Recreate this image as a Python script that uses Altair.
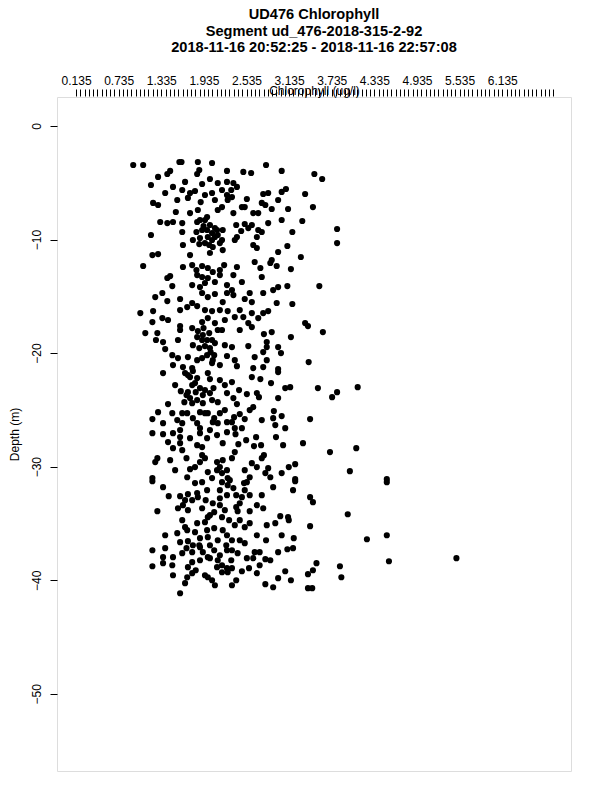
import altair as alt
import pandas as pd

# (chlorophyll ug/l, depth m)
upper_pts = [
    (0.94, -3.44), (1.08, -3.44), (1.59, -3.17), (1.62, -3.17), (1.85, -3.17), (2.05, -3.26),
    (2.26, -3.96), (1.46, -3.96), (1.42, -4.23), (1.29, -4.49), (1.87, -3.88), (1.84, -4.23),
    (2.02, -4.67), (2.13, -5.02), (1.91, -5.11), (2.26, -4.93), (1.19, -5.20), (1.50, -5.37),
    (1.39, -5.90), (1.63, -5.64), (1.74, -5.90), (1.81, -5.73), (2.05, -5.90), (2.19, -5.64),
    (2.26, -6.08), (2.27, -6.52), (1.22, -6.78), (1.29, -6.96), (1.56, -6.52), (1.89, -6.70),
    (1.74, -7.67), (1.85, -7.40), (1.98, -8.02), (2.13, -7.40), (2.19, -7.14), (1.32, -8.46),
    (1.42, -8.55), (1.50, -8.46), (1.63, -8.55), (1.84, -8.46), (1.95, -8.28), (2.02, -8.72),
    (2.12, -9.16), (2.20, -9.16), (1.19, -9.60), (1.63, -9.34), (1.91, -9.16), (1.99, -9.78),
    (2.09, -9.78), (2.16, -10.31), (1.78, -10.04), (1.64, -10.48), (1.88, -9.87), (2.05, -9.43),
    (1.95, -10.31), (2.06, -10.66),
    (2.81, -3.44), (2.49, -4.05), (2.60, -4.14), (3.03, -3.96), (3.49, -4.23), (3.60, -4.67),
    (2.35, -5.02), (2.40, -5.37), (2.77, -5.99), (2.84, -5.90), (3.03, -5.81), (3.09, -5.55),
    (3.36, -5.99), (2.54, -6.43), (2.75, -6.78), (2.98, -6.52), (2.89, -7.31), (3.12, -7.31),
    (3.47, -7.14), (2.47, -7.14), (2.51, -7.14), (2.35, -7.67), (2.63, -7.67), (2.70, -7.67),
    (3.32, -8.37), (2.84, -8.55), (2.51, -8.63), (2.61, -8.72), (2.70, -9.16), (2.75, -9.34),
    (3.81, -9.07), (2.40, -9.78), (2.37, -10.04), (2.68, -9.78), (2.63, -10.48), (2.68, -10.75),
    (2.98, -11.10), (3.11, -10.57), (3.81, -10.31), (3.30, -11.54), (2.89, -11.81),
    (2.32, -5.64), (2.33, -6.26), (2.39, -8.72), (2.46, -9.25),
    (2.20, -10.93), (1.21, -11.37), (1.29, -11.28), (1.74, -11.37), (2.02, -11.19),
    (1.88, -8.28), (1.93, -8.81), (1.98, -9.16), (2.05, -10.04), (2.09, -8.99), (2.13, -9.60),
    (1.87, -10.40), (2.19, -10.04), (1.83, -9.34), (2.01, -10.48), (1.67, -4.93), (1.71, -6.34),
    (1.95, -6.08), (2.09, -6.52), (1.54, -7.58), (2.56, -8.99), (2.80, -6.96), (3.18, -9.34),
    (3.03, -8.28),
]

middle_pts = [
    (1.08, -12.33), (1.64, -12.42), (1.77, -12.25), (1.91, -12.33), (1.99, -12.51), (2.06, -12.86),
    (2.16, -12.69), (1.42, -13.39), (1.46, -13.22), (1.84, -13.13), (1.91, -13.30), (1.99, -13.39),
    (2.16, -13.13), (1.49, -14.10), (1.77, -14.01), (1.88, -14.19), (2.26, -14.01), (1.35, -14.71),
    (1.25, -15.07), (1.42, -15.42), (1.60, -15.24), (1.77, -15.59), (1.84, -15.86), (1.91, -14.71),
    (1.99, -15.07), (2.09, -14.80), (2.20, -15.51), (2.26, -14.71), (1.04, -16.48), (1.22, -16.30),
    (1.60, -16.21), (1.70, -15.95), (1.95, -16.21), (2.05, -16.30), (2.16, -16.21), (2.27, -16.30),
    (1.21, -17.27), (1.35, -16.92), (1.43, -17.09), (1.60, -17.62), (1.91, -17.27), (1.99, -16.92),
    (2.09, -17.36), (2.23, -17.09), (1.11, -18.24), (1.28, -18.24), (1.60, -17.97), (1.77, -17.80),
    (1.85, -18.06), (2.13, -17.97), (1.26, -18.85), (1.36, -19.03), (1.39, -19.65), (1.78, -19.30),
    (1.91, -18.85), (1.98, -18.85), (2.02, -19.56), (2.09, -19.12), (1.49, -20.18), (1.57, -20.44),
    (1.71, -20.35), (1.84, -20.62), (1.91, -20.44), (1.98, -20.18), (2.06, -20.62), (2.26, -20.26),
    (1.50, -21.06), (1.64, -21.23), (1.77, -21.32), (2.05, -20.88), (2.16, -21.06),
    (1.92, -18.41), (1.95, -19.38), (2.03, -19.91), (2.01, -18.24),
    (2.65, -11.98), (2.87, -12.07), (2.96, -12.33), (3.16, -12.60), (2.75, -13.30), (2.47, -13.74),
    (2.35, -13.13), (2.91, -14.45), (2.98, -14.19), (3.11, -14.10), (3.56, -14.10), (2.77, -14.71),
    (2.58, -14.71), (2.51, -15.24), (2.61, -15.51), (2.96, -15.59), (3.18, -15.68), (2.44, -16.21),
    (2.61, -16.48), (2.77, -16.48), (2.84, -16.30), (2.70, -16.92), (2.37, -16.83), (2.56, -17.36),
    (2.61, -17.71), (3.36, -17.36), (3.40, -17.62), (3.61, -18.15), (2.44, -17.97), (2.78, -18.33),
    (2.89, -18.15), (3.16, -18.59), (2.82, -19.03), (2.56, -19.38), (2.82, -19.47), (2.77, -19.91),
    (2.98, -19.47), (3.02, -20.00), (2.65, -20.35), (2.82, -20.62), (3.41, -20.79), (2.37, -20.62),
    (2.40, -21.15), (2.63, -21.32), (2.77, -21.23), (2.98, -21.41),
    (2.40, -12.42), (2.73, -12.51), (2.35, -14.89), (2.49, -16.83), (2.33, -19.47),
    (1.84, -18.59), (1.93, -17.80), (2.05, -18.85), (1.87, -19.56), (2.08, -20.18), (1.57, -18.85),
    (2.23, -19.30), (2.19, -17.97), (1.83, -12.69), (1.95, -13.83), (2.09, -13.74), (2.22, -12.25),
    (2.33, -14.45),
]

lower_pts = [
    (1.36, -21.76), (1.67, -21.76), (1.74, -22.11), (1.84, -22.20), (1.99, -21.76), (2.02, -22.29),
    (2.16, -22.38), (2.23, -22.82), (1.53, -22.82), (1.61, -23.35), (1.71, -23.44), (1.74, -23.96),
    (1.84, -24.14), (1.77, -24.41), (1.92, -24.41), (2.02, -23.52), (2.05, -24.14), (2.13, -24.32),
    (2.26, -23.52), (1.43, -24.49), (1.29, -25.20), (1.49, -25.29), (1.63, -25.29), (1.70, -25.29),
    (1.88, -25.20), (1.95, -25.29), (1.99, -25.29), (2.16, -25.29), (2.23, -25.02), (1.21, -25.81),
    (1.36, -26.17), (1.56, -25.90), (1.63, -26.17), (1.84, -26.17), (1.88, -26.61), (2.06, -26.08),
    (2.13, -26.17), (2.26, -26.08), (1.21, -27.05), (1.36, -27.14), (1.50, -27.05), (1.60, -27.40),
    (1.74, -27.49), (1.88, -27.05), (1.98, -27.49), (2.12, -27.22), (2.26, -26.96), (1.43, -27.84),
    (1.50, -28.37), (1.60, -27.93), (1.63, -28.55), (1.84, -28.11), (1.91, -28.28), (2.20, -27.93),
    (1.28, -29.25), (1.25, -29.60), (1.91, -28.99), (1.95, -29.25), (2.12, -29.60), (2.20, -29.43),
    (1.53, -30.31), (1.74, -30.22), (1.81, -30.04), (1.99, -30.48), (2.12, -30.31), (2.16, -30.04),
    (2.19, -30.57), (2.26, -30.31), (1.21, -31.01), (1.70, -30.93), (2.27, -31.01),
    (1.78, -21.58), (1.81, -22.64), (1.88, -23.08), (1.92, -23.70), (1.69, -23.70),
    (2.98, -21.67), (2.61, -22.11), (2.73, -22.29), (2.88, -22.64), (3.08, -23.08), (3.15, -23.00),
    (3.54, -23.08), (3.81, -23.44), (3.74, -23.88), (4.10, -23.00), (2.43, -23.26), (2.54, -23.61),
    (2.68, -23.52), (2.71, -23.88), (2.98, -23.96), (2.40, -24.49), (2.63, -24.76), (2.58, -25.02),
    (2.92, -25.11), (2.91, -25.73), (3.03, -25.55), (3.43, -25.81), (2.44, -25.37), (2.51, -25.81),
    (2.94, -26.34), (2.37, -26.61), (2.47, -26.61), (2.95, -27.40), (3.33, -27.93), (3.71, -28.72),
    (4.08, -28.37), (2.67, -27.40), (2.64, -28.19), (2.74, -28.11), (2.42, -28.02), (2.37, -28.72),
    (2.75, -29.25), (2.61, -29.69), (2.68, -30.04), (2.84, -30.13), (2.51, -30.31), (2.80, -30.57),
    (3.03, -30.57), (3.13, -30.04), (3.22, -29.78), (3.99, -30.40), (2.58, -30.93), (2.87, -30.93),
    (3.22, -31.10), (4.51, -31.10),
    (2.33, -22.55), (2.35, -23.96), (2.36, -25.64), (2.38, -27.14), (2.33, -26.08), (2.33, -29.25),
    (1.71, -21.94), (1.77, -22.82), (1.82, -23.44), (1.66, -24.32), (1.95, -23.26), (2.07, -23.08),
    (1.60, -26.78), (2.02, -26.78), (1.78, -25.73), (2.08, -25.73), (1.88, -29.60), (2.05, -31.01),
    (1.69, -29.25), (1.46, -29.43), (2.53, -27.67), (2.75, -25.90), (3.05, -28.11), (3.08, -26.61),
    (2.78, -28.99),
]

bottom_pts = [
    (1.21, -31.28), (1.36, -31.81), (1.44, -32.60), (1.60, -32.60), (1.71, -32.42), (1.84, -32.33),
    (1.98, -32.07), (1.81, -31.45), (1.91, -31.37), (2.16, -32.07), (2.19, -31.37), (2.27, -31.63),
    (2.16, -32.78), (2.26, -32.51), (1.64, -33.39), (1.71, -33.83), (1.91, -33.66), (2.06, -33.22),
    (2.16, -33.39), (2.23, -33.83), (1.28, -33.92), (1.63, -34.71), (1.67, -35.33), (1.84, -34.98),
    (1.99, -34.45), (2.02, -34.27), (2.19, -34.45), (1.39, -36.04), (1.56, -35.86), (1.70, -35.59),
    (1.81, -35.77), (1.98, -35.59), (1.99, -36.21), (2.20, -35.59), (2.26, -36.04), (1.60, -36.65),
    (1.71, -36.56), (1.78, -36.92), (1.88, -37.09), (1.21, -37.36), (1.63, -37.62), (1.77, -37.53),
    (1.92, -37.53), (2.16, -37.80), (2.26, -37.36), (1.36, -37.97), (1.50, -37.97), (1.77, -38.41),
    (1.88, -38.24), (2.02, -38.06), (2.13, -38.24), (2.19, -38.68), (1.21, -38.77), (1.36, -38.50),
    (1.49, -38.68), (1.71, -38.85), (2.12, -38.85), (2.26, -38.94), (2.27, -39.30), (1.50, -39.56),
    (1.70, -39.74), (1.77, -39.38), (1.95, -39.56), (1.99, -39.74), (2.19, -39.30), (1.67, -40.26),
    (2.09, -40.44), (1.60, -41.15),
    (1.67, -32.95), (1.57, -33.66), (1.88, -36.30), (2.08, -37.36),
    (4.51, -31.37), (2.91, -31.81), (3.19, -32.07), (3.22, -31.28), (3.43, -32.69), (3.47, -33.13),
    (3.96, -34.19), (3.43, -35.24), (4.23, -36.39), (4.51, -36.04), (4.54, -38.33), (5.49, -38.06),
    (3.85, -38.77), (3.87, -39.74), (3.52, -38.50), (3.47, -39.12), (3.40, -39.47), (3.46, -40.70),
    (3.40, -40.70), (3.16, -40.00), (3.08, -39.21), (2.98, -39.82), (2.80, -40.35), (2.91, -40.62),
    (3.19, -37.18), (3.11, -37.27), (2.98, -37.53), (3.03, -36.04), (3.20, -36.30), (2.68, -36.04),
    (2.82, -35.15), (2.94, -34.98), (3.01, -34.36), (3.12, -34.45), (3.13, -34.71), (2.68, -33.39),
    (2.77, -33.66), (2.58, -34.98), (2.51, -35.33), (2.37, -35.15), (2.44, -34.71), (2.65, -37.53),
    (2.72, -37.53), (2.44, -36.48), (2.51, -36.74), (2.33, -36.48), (2.33, -37.36), (2.41, -37.62),
    (2.54, -38.06), (2.63, -38.06), (2.80, -38.15), (2.72, -38.68), (2.68, -39.38), (2.33, -38.94),
    (2.47, -39.21), (2.33, -40.44), (2.51, -32.07), (2.47, -32.69), (2.35, -31.89), (2.54, -31.37),
    (2.39, -32.51), (2.44, -33.22), (2.41, -33.92),
    (1.77, -32.95), (1.85, -32.69), (1.96, -32.95), (2.08, -34.01), (2.29, -34.71), (1.95, -34.89),
    (2.08, -35.42), (1.87, -36.92), (2.02, -36.92), (2.13, -36.48), (2.25, -36.92), (1.69, -37.18),
    (1.99, -37.97), (2.32, -38.24), (1.82, -39.12), (2.05, -40.00), (1.39, -37.18), (2.30, -31.19),
    (2.50, -31.45), (2.58, -32.51), (2.39, -33.57), (2.58, -33.92), (2.75, -32.51), (2.81, -36.48),
    (2.87, -38.24), (2.57, -38.94), (2.39, -40.00),
]

x_label_values = ["0.135", "0.735", "1.335", "1.935", "2.535", "3.135",
                  "3.735", "4.335", "4.935", "5.535", "6.135"]
x_tick_values = [round(0.135 + 0.06 * k, 3) for k in range(113)]
y_tick_values = [0, -10, -20, -30, -40, -50]

title_lines = ["UD476 Chlorophyll",
               "Segment ud_476-2018-315-2-92",
               "2018-11-16 20:52:25 - 2018-11-16 22:57:08"]

all_pts = upper_pts + middle_pts + lower_pts + bottom_pts
df = pd.DataFrame(all_pts, columns=["chl", "depth"])

FONT = "Liberation Sans"
label_list = ",".join("'" + s + "'" for s in x_label_values)
label_expr = (f"indexof([{label_list}], format(datum.value, '.3f')) >= 0 "
              f"? format(datum.value, '.3f') : ''")

x_axis = alt.Axis(
    orient="top", values=x_tick_values, labelExpr=label_expr, labelOverlap=False,
    labelFlush=False, tickSize=7, tickColor="black", tickWidth=1, domain=False, grid=False,
    offset=1, labelFont=FONT, labelFontSize=12, labelColor="black", labelPadding=2,
    title="Chlorophyll (ug/l)", titleFont=FONT, titleFontSize=12, titleFontWeight="normal",
    titleColor="black", titleX=257, titleY=-6, titleBaseline="middle", titleAlign="center",
)

y_axis = alt.Axis(
    values=y_tick_values, tickSize=7, tickColor="black", domain=False, grid=False,
    labelAngle=270, labelAlign="center", labelBaseline="bottom", labelPadding=7,
    labelFont=FONT, labelFontSize=12, labelColor="black",
    title="Depth (m)", titleFont=FONT, titleFontSize=12, titleFontWeight="normal",
    titleColor="black", titleAngle=270, titleX=-43, titleY=337, titleAlign="center",
    titleBaseline="middle",
)

chart = alt.Chart(df).mark_circle(size=38, color="black", opacity=1).encode(
    x=alt.X("chl:Q", scale=alt.Scale(domain=[-0.133, 7.103], nice=False, zero=False), axis=x_axis),
    y=alt.Y("depth:Q", scale=alt.Scale(domain=[-56.8, 2.55], nice=False, zero=False), axis=y_axis),
).properties(
    width=514, height=674,
    title=alt.TitleParams(text=title_lines, font=FONT, fontSize=14.6, fontWeight="bold",
                          color="black", anchor="middle", lineHeight=16.5, offset=19),
    autosize=alt.AutoSizeParams(type="none"),
    padding={"left": 49, "top": 89, "right": 21, "bottom": 21},
).configure_view(stroke="black", strokeWidth=1).configure(background="white")

chart.save("out.html", embed_options={"renderer": "svg", "actions": False})
